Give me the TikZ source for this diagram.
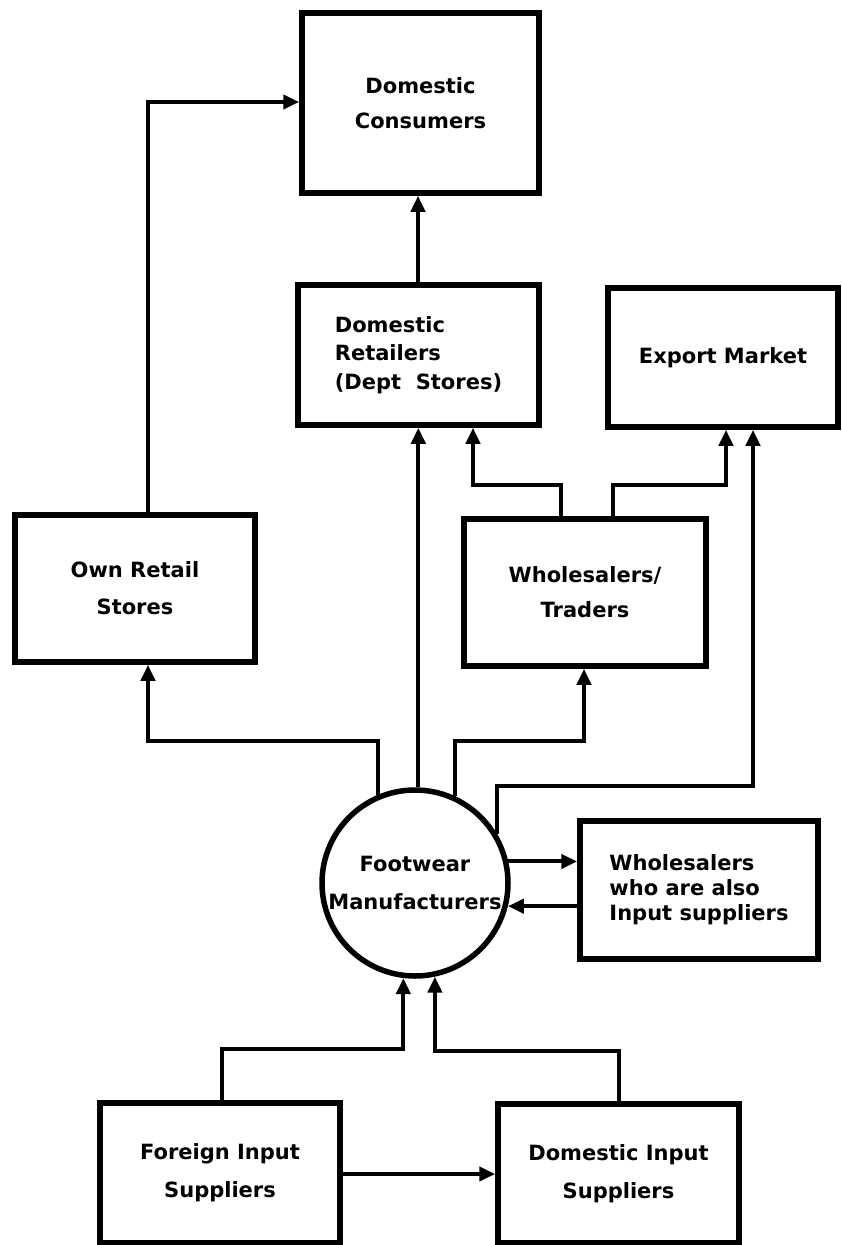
\documentclass[tikz,border=0pt]{standalone}
\usepackage{fontspec}
\setmainfont{DejaVu Sans}
\usetikzlibrary{arrows.meta}
\newcommand{\lblfont}[1]{\bfseries\fontsize{21}{#1}\selectfont}
\begin{document}
\begin{tikzpicture}[x=1pt,y=-1pt,
  box/.style={draw,rectangle,line width=5.5pt,inner sep=0pt,align=center,font=\lblfont{35}},
  conn/.style={line width=4pt,-{Triangle[length=16pt,width=14pt]}}]
\useasboundingbox[fill=white] (0,0) rectangle (842,1245);

% boxes
\node[box,minimum width=237pt,minimum height=180pt] (dc) at (420.5,103) {Domestic\\Consumers};
\node[box,minimum width=241pt,minimum height=140pt,align=left,font=\lblfont{28.5}] (dr) at (418.5,355) {Domestic\\Retailers\\(Dept\ \ Stores)};
\node[box,minimum width=230pt,minimum height=139pt] (em) at (723,357.5) {Export Market};
\node[box,minimum width=240pt,minimum height=147pt,font=\lblfont{37}] (ors) at (135,588.5) {Own Retail\\Stores};
\node[box,minimum width=242pt,minimum height=147pt] (wt) at (585,592.5) {Wholesalers/\\Traders};
\node[draw,circle,line width=5.5pt,minimum size=186pt,inner sep=0pt,align=center,font=\lblfont{38}] (fm) at (415,883) {Footwear\\Manufacturers};
\node[box,minimum width=238pt,minimum height=138pt,align=left,font=\lblfont{25}] (wa) at (699,890) {Wholesalers\\who are also\\Input suppliers};
\node[box,minimum width=240pt,minimum height=140pt,font=\lblfont{38}] (fi) at (220,1173) {Foreign Input\\Suppliers};
\node[box,minimum width=241pt,minimum height=139pt,font=\lblfont{38}] (di) at (618.5,1173.5) {Domestic Input\\Suppliers};

% connectors
\draw[conn] (ors.north -| 148,0) |- (dc.west |- 0,102);
\draw[conn] (dr.north -| 418,0) -- (dc.south -| 418,0);
\draw[conn] (fm.88.8) -- (dr.south -| fm.88.8);
\draw[conn] (wt.north -| 561,0) |- (473,485) -- (dr.south -| 473,0);
\draw[conn] (wt.north -| 613,0) |- (726,485) -- (em.south -| 726,0);
\draw[conn] (fm.31.8) |- (753,786) -- (em.south -| 753,0);
\draw[conn] (fm.113.4) |- (148,741) -- (ors.south -| 148,0);
\draw[conn] (fm.65.2) |- (584,741) -- (wt.south -| 584,0);
\draw[conn] (fm.13) -- (wa.west |- fm.13);
\draw[conn] (wa.west |- fm.-14.3) -- (fm.-14.3);
\draw[conn] (fi.north -| 222,0) |- (fm.-97.4 |- 0,1049) -- (fm.-97.4);
\draw[conn] (di.north -| 619,0) |- (fm.-78.8 |- 0,1051) -- (fm.-78.8);
\draw[conn] (fi.east |- 0,1174) -- (di.west |- 0,1174);
\end{tikzpicture}
\end{document}
